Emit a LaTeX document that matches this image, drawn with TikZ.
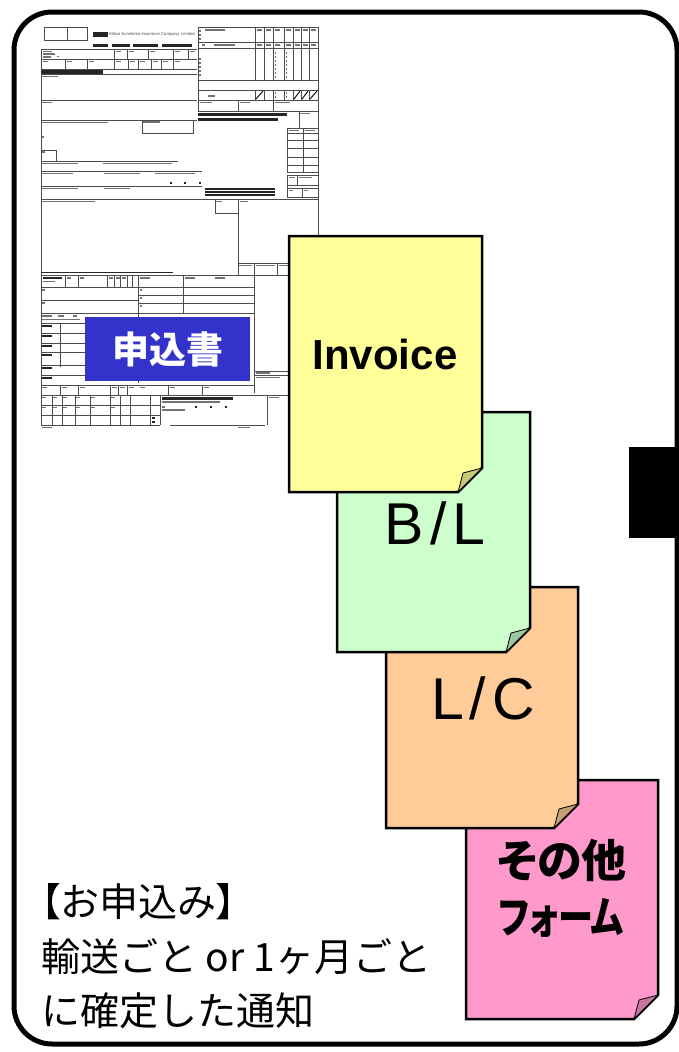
\documentclass[tikz,border=0pt]{standalone}
\usepackage{fontspec}
\setmainfont{Liberation Sans}
\newfontfamily\jp{Noto Sans CJK JP}
\newfontfamily\jpp[RawFeature=+palt]{Noto Sans CJK JP}
\definecolor{invc}{HTML}{FFFF99}
\definecolor{blc}{HTML}{CCFFCC}
\definecolor{lcc}{HTML}{FFCC99}
\definecolor{othc}{HTML}{FF99CC}
\definecolor{appblue}{HTML}{3333CC}
\tikzset{
  formline/.style={line width=0.7pt, draw=black!70},
  tx/.style={fill=black!55},
  txd/.style={fill=black!85},
  paperedge/.style={line width=2.5pt, draw=black, line join=miter},
  curl/.style={line width=0.8pt, draw=black, line join=round},
}
\newcommand\paper[5]{%
  \filldraw[paperedge, fill=#5] (#1,#2) -- (#3,#2) -- (#3,#4-24) -- (#3-24,#4) -- (#1,#4) -- cycle;
  \filldraw[curl, fill=#5!78!black] (#3-24,#4) .. controls (#3-22,#4-9) .. (#3-19,#4-19)
     .. controls (#3-10,#4-21) .. (#3,#4-24) -- cycle;
}
\begin{document}
\begin{tikzpicture}[x=1pt,y=-1pt]
\useasboundingbox (0,0) rectangle (679,1052);
\fill[white] (0,0) rectangle (679,1052);
% outer frame
\draw[line width=5pt, rounded corners=38pt] (14,12) rectangle (677,1044);
% black tab on right
\fill[black] (629,447) rectangle (680,538);

% ---------------- application form ----------------
\begin{scope}[formline]
% header
\draw (44,27) rectangle (87,40); \draw (67,27) -- (67,40);
\fill[txd] (93,32) rectangle (108,37);
\node[anchor=west, inner sep=0, font=\fontsize{4.2}{5}\selectfont, text=black!70] (ms) at (109,34.5) {Mitsui Sumitomo Insurance Company, Limited};
\foreach \a/\b in {93/108,112/130,133/158,162/192} \fill[txd] (\a,44) rectangle (\b,47);
% left grid top
\foreach \y in {49,59,69,74,100,120} \draw (41,\y) -- (197,\y);
\foreach \x in {114,127,148,173,188} \draw (\x,49) -- (\x,59);
\foreach \x in {65,87,114,128,138,151,161,173} \draw (\x,59) -- (\x,69);
\draw (41,49) -- (41,425);
\fill[tx] (43,50.5) rectangle (52,52); \fill[tx] (43,53) rectangle (55,54.5); \fill[tx] (43,55.5) rectangle (51,57.5); \fill[tx] (57,56) rectangle (59,57);
\foreach \x in {116,129,150,175,190} \fill[tx] (\x,50.5) rectangle (\x+5,52);
\foreach \x in {43,67,89,116,130,140,153,163,175} \fill[tx] (\x,60.5) rectangle (\x+5,62);
\fill[txd] (41,70) rectangle (103,73.5);
\fill[tx] (42,75.5) rectangle (58,77);
\fill[tx] (42,101.5) rectangle (52,103);
\fill[tx] (42,121.5) rectangle (108,123);
\draw (142,120) rectangle (193,133); \fill[tx] (143,121) rectangle (160,123);
\fill[tx] (42,136) rectangle (44,138);
\draw (41,150) rectangle (56,161); \fill[tx] (42,151) rectangle (45,153);
\draw (41,161) -- (178,161);
\fill[tx] (42,162.5) rectangle (78,164); \fill[tx] (103,162.5) rectangle (172,164);
\draw (41,171) -- (202,171);
\fill[tx] (42,172.5) rectangle (73,174); \fill[tx] (104,172.5) rectangle (140,174); \fill[tx] (155,172.5) rectangle (195,174);
\foreach \x in {170,184,199} \fill[txd] (\x,182) rectangle (\x+1.5,184);
\draw (41,186) -- (202,186);
\fill[tx] (42,187.5) rectangle (78,189); \fill[tx] (104,187.5) rectangle (130,189);
% right section
\draw (198,27) -- (318,27) -- (318,275);
\draw (198,27) -- (198,111);
\foreach \y in {42,48,80,90,100,111} \draw (198,\y) -- (318,\y);
\foreach \x in {255,264,273,284,293,301,309} {\draw (\x,27) -- (\x,80); \draw (\x,90) -- (\x,100);}
\foreach \x/\w in {255/9,293/8,301/8,309/9} \draw[line width=0.9pt, black] (\x+1,99) -- (\x+\w-1,91);
\draw (238,100) -- (238,111); \draw (273,100) -- (273,111);
\foreach \x in {256,265,274,285,294,302,310} {\fill[tx] (\x+1,29) rectangle (\x+6,31); \fill[tx] (\x+1,44) rectangle (\x+6,46);}
\fill[tx] (205,29) rectangle (225,31); \fill[tx] (202,44) rectangle (205,46); \fill[tx] (214,44) rectangle (235,46);
\foreach \y in {30,34,38,58,62,66,70,74} \fill[tx] (199,\y) rectangle (200.5,\y+2);
\foreach \y in {52,56,...,78} {\fill[tx] (275,\y) rectangle (276,\y+1.5); \fill[tx] (286,\y) rectangle (287,\y+1.5);}
\foreach \y in {92,96} {\fill[tx] (275,\y) rectangle (276,\y+1.5); \fill[tx] (286,\y) rectangle (287,\y+1.5);}
\fill[tx] (208,95) rectangle (215,96.5);
\fill[tx] (200,101.5) rectangle (212,103); \fill[tx] (240,101.5) rectangle (250,103); \fill[tx] (275,101.5) rectangle (290,103);
\fill[txd] (198,112.5) rectangle (287,115.5); \fill[txd] (198,118) rectangle (278,121);
\draw (299,111) rectangle (318,128); \fill[tx] (300,112.5) rectangle (310,114);
\draw (287,128) rectangle (318,172);
\foreach \y in {133,140,148,157,165} \draw (287,\y) -- (318,\y);
\draw (303,128) -- (303,172);
\fill[tx] (289,129.5) rectangle (299,131); \fill[tx] (305,129.5) rectangle (315,131);
\draw (287,175) rectangle (318,197); \draw (287,185) -- (318,185); \draw (287,188) -- (318,188);
\draw (297,175) -- (297,185); \draw (302,188) -- (302,197);
\fill[tx] (289,176.5) rectangle (295,178); \fill[tx] (299,176.5) rectangle (312,178);
\fill[tx] (289,189.5) rectangle (293,191); \fill[tx] (304,189.5) rectangle (308,191);
\foreach \y in {188,191,194} \fill[txd] (205,\y) rectangle (275,\y+1.5);
\draw (41,199) -- (318,199);
\fill[tx] (42,200.5) rectangle (95,202);
\draw (215,199) rectangle (238,213); \fill[tx] (216,200.5) rectangle (222,202);
\draw (238,199) -- (238,275); \fill[tx] (240,200.5) rectangle (248,202);
\draw (238,263) -- (290,263); \draw (254,263) -- (254,275); \draw (277,263) -- (277,275);
\fill[tx] (239,264.5) rectangle (252,266); \fill[tx] (256,264.5) rectangle (275,266); \fill[tx] (279,264.5) rectangle (289,266);
\fill[txd] (41,271.5) rectangle (173,273);
% lower form
\draw (41,275) -- (290,275);
\foreach \x in {65,78,107,114,120,127,132} \draw (\x,275) -- (\x,287);
\draw (138,275) -- (138,383); \draw (183,275) -- (183,313); \draw (254,275) -- (254,393);
\foreach \y in {287,295,303,313} \draw (138,\y) -- (254,\y);
\foreach \y in {287,300,313,323,333,343,352,365,375} \draw (41,\y) -- (138,\y);
\draw (60,323) -- (60,367);
\draw (254,371) -- (290,371); \draw (254,375) -- (290,375);
\fill[tx] (256,372) rectangle (270,373.5); \fill[tx] (256,376.5) rectangle (280,378);
\fill[txd] (43,277) rectangle (62,279); \fill[tx] (43,280.5) rectangle (55,282);
\foreach \x in {67,80,109,116,122} \fill[tx] (\x,277) rectangle (\x+4,278.5);
\foreach \x in {140,185,215} \fill[tx] (\x,277) rectangle (\x+10,278.5);
\foreach \y in {289,297,305} \fill[tx] (140,\y) rectangle (142,\y+1.5);
\fill[tx] (42,289) rectangle (45,290.5); \fill[tx] (42,302) rectangle (45,303.5);
\fill[tx] (42,315) rectangle (52,316.5); \fill[tx] (58,315) rectangle (64,316.5); \fill[tx] (73,315) rectangle (77,316.5);
\fill[tx] (42,318.5) rectangle (80,320);
\foreach \y in {325,335,345,354,367,377} \fill[txd] (42,\y) rectangle (52,\y+2);
\draw (41,385) -- (254,385);
\foreach \x in {60,78,110,118,127,168,202} \draw (\x,385) -- (\x,395);
\foreach \x in {42,62,80,112,120,129,140,170,204} \fill[tx] (\x,386.5) rectangle (\x+5,388);
\draw (41,395) -- (290,395);
\foreach \y in {405,415,425} \draw (41,\y) -- (160,\y);
\foreach \x in {52,62,75,90,110,120,130,150} \draw (\x,395) -- (\x,425);
\foreach \x in {42,53,63,76,91,111} \fill[tx] (\x,396.5) rectangle (\x+4,398);
\foreach \x in {42,53,63,76,91,111} \fill[tx] (\x,406.5) rectangle (\x+4,408);
\fill[txd] (152,417) rectangle (155,419); \fill[txd] (152,421) rectangle (155,423);
\draw (160,395) -- (160,425);
\fill[txd] (162,397) rectangle (233,400); \fill[tx] (162,401) rectangle (220,402.5);
\fill[tx] (162,406) rectangle (165,407.5); \fill[tx] (162,409) rectangle (185,410.5);
\foreach \x in {195,210,225} \fill[txd] (\x,406) rectangle (\x+1.5,408);
\draw (170,425) -- (265,425);
\draw (267,395) -- (267,425); \fill[tx] (269,396.5) rectangle (279,398);
\fill[tx] (42,426.5) rectangle (52,428); \fill[tx] (238,426.5) rectangle (250,428);
\end{scope}

% application label
\fill[appblue] (85,317) rectangle (250,381);
\node[font=\jp\bfseries\fontsize{37}{37}\selectfont, text=white, inner sep=0] (app) at (167.5,349) {申込書};

% documents (bottom to top)
\paper{466}{780}{658}{1019}{othc}
\paper{386}{587}{578}{828}{lcc}
\paper{337}{412}{530}{652}{blc}
\paper{289}{236}{482}{492}{invc}

\node[font=\bfseries\fontsize{42}{42}\selectfont, inner sep=0] (inv) at (385,354) {Invoice};
\node[font=\fontsize{59}{59}\selectfont, inner sep=0] (bl) at (435,523) {B\hspace{6pt}/\hspace{6pt}L};
\node[font=\fontsize{59}{59}\selectfont, inner sep=0] (lc) at (483,698) {L\hspace{6pt}/\hspace{6pt}C};
\node[font=\jpp\bfseries\fontsize{45}{45}\selectfont, inner sep=0] (oth1) at (562,860) {その他};
\node[font=\jpp\bfseries\fontsize{44}{44}\selectfont, inner sep=0] (oth2) at (561,918) {\scalebox{0.8}[1]{フォーム}};

% bottom note
\node[font=\jp\fontsize{39}{39}\selectfont, inner sep=0, anchor=base west] (n1) at (41,916) {{\jpp【}お申込み{\jpp】}};
\node[font=\jp\fontsize{39}{39}\selectfont, inner sep=0, anchor=base west] (n2) at (41,971) {輸送ごと or 1ヶ月ごと};
\node[font=\jp\fontsize{39}{39}\selectfont, inner sep=0, anchor=base west] (n3) at (41,1025) {に確定した通知};
\end{tikzpicture}
\end{document}
